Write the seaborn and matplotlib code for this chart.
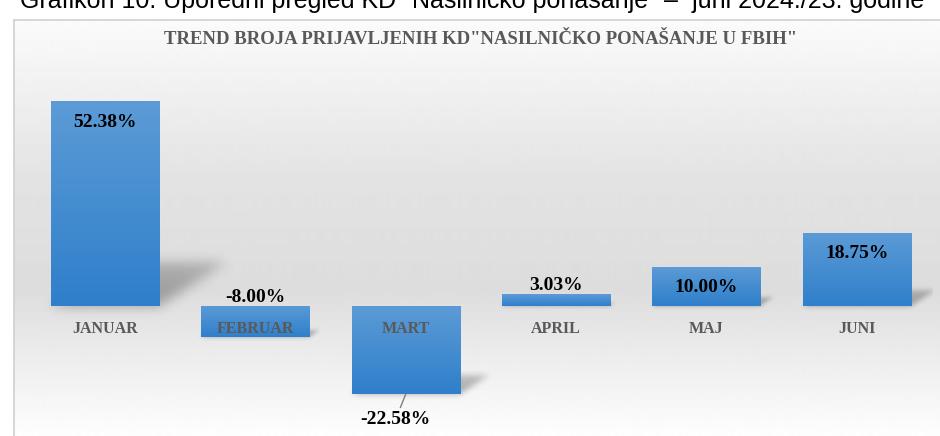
import numpy as np
import matplotlib
matplotlib.use("Agg")
import matplotlib.pyplot as plt
import seaborn as sns
from matplotlib.colors import LinearSegmentedColormap

# --- data ---
months = ["JANUAR", "FEBRUAR", "MART", "APRIL", "MAJ", "JUNI"]
trend_pct = [52.38, -8.00, -22.58, 3.03, 10.00, 18.75]
label_place = ["inside", "above", "below", "above", "inside", "inside"]

title = 'TREND BROJA PRIJAVLJENIH KD"NASILNIČKO PONAŠANJE U FBIH"'
caption = 'Grafikon 10. Uporedni pregled KD "Nasilničko ponašanje" –  juni 2024./23. godine'

sns.set_theme(style="white")
plt.rcParams['font.family'] = ['Liberation Serif', 'DejaVu Serif']

W, H = 940, 436
fig = plt.figure(figsize=(W / 100, H / 100), dpi=100)
fig.patch.set_facecolor("white")

# background panel with soft grey gradient (white top/bottom, grey middle)
bg = fig.add_axes([14 / W, 0, 1 - 14 / W, (H - 20) / H])
py = np.arange(20, H + 1)
gray = np.interp(py, [20, 70, 180, 290, 360, 436], [0.985, 0.955, 0.89, 0.865, 0.93, 0.995])
bg.imshow(gray[:, None], cmap="gray", vmin=0, vmax=1,
          extent=[0, 1, 0, 1], aspect="auto", origin="upper")
bg.set_xlim(0, 1)
bg.set_ylim(0, 1)
bg.set_xticks([])
bg.set_yticks([])
for side in ["right", "bottom"]:
    bg.spines[side].set_visible(False)
for side in ["left", "top"]:
    bg.spines[side].set_color("#d0d0d0")
    bg.spines[side].set_linewidth(1.2)

# main bar axes
ax = fig.add_axes([29.8 / W, (H - 423.4) / H, 902 / W, (423.4 - 71.2) / H])
sns.barplot(x=months, y=trend_pct, width=0.72, color="#4a90d9", ax=ax, zorder=3)

bar_cmap = LinearSegmentedColormap.from_list("bar", ["#2f7fcb", "#5c9bd6"])
grad = np.linspace(0, 1, 256).reshape(-1, 1)
px_x = 902 / 6.0
px_y = (423.4 - 71.2) / 90.0


def blur(a, sigma=4.0):
    r = int(3 * sigma)
    k = np.exp(-0.5 * (np.arange(-r, r + 1) / sigma) ** 2)
    k /= k.sum()
    a = np.array([np.convolve(row, k, mode="same") for row in a])
    a = np.array([np.convolve(col, k, mode="same") for col in a.T]).T
    return a


for p in list(ax.patches):
    x0, w = p.get_x(), p.get_width()
    lo, hi = sorted([p.get_y(), p.get_y() + p.get_height()])
    h = hi - lo
    # soft perspective shadow falling up-right from the bar's lower edge
    w_px = w * px_x
    hs_px = 0.21 * h * px_y
    dx_px = 1.55 * hs_px
    pad = 14
    uu = np.arange(-pad, w_px + dx_px + pad)
    vv = np.arange(-pad, hs_px + pad)
    U, V = np.meshgrid(uu, vv)
    t = np.clip(V / max(hs_px, 1e-6), 0, 1)
    inside = (V >= 0) & (V <= hs_px) & (U >= t * dx_px) & (U <= w_px + t * dx_px)
    mask = blur(inside * (1 - 0.35 * t), sigma=max(2.0, min(6.0, hs_px / 6)))
    rgba = np.zeros(mask.shape + (4,))
    rgba[..., 3] = 0.32 * mask
    ax.imshow(rgba, origin="lower", aspect="auto", zorder=2,
              extent=[x0 - pad / px_x, x0 + (w_px + dx_px + pad) / px_x,
                      lo - pad / px_y, lo + (hs_px + pad) / px_y])

    im = ax.imshow(grad, extent=[x0, x0 + w, lo, hi], origin="lower",
                   aspect="auto", cmap=bar_cmap, zorder=3)
    im.set_clip_path(p)
    p.set_facecolor("none")
    p.set_edgecolor("none")

ax.set_xlim(-0.5, 5.5)
ax.set_ylim(-30, 60)
ax.axis("off")

# value labels
for i, (v, place) in enumerate(zip(trend_pct, label_place)):
    txt = f"{v:.2f}%"
    kw = dict(ha="center", va="center", fontsize=14, fontweight="bold",
              color="black", textcoords="offset pixels", zorder=6)
    if place == "inside":
        ax.annotate(txt, (i, v), xytext=(0, -21), **kw)
    elif place == "above":
        ax.annotate(txt, (i, max(v, 0)), xytext=(0, 9), **kw)
    else:
        ax.annotate(txt, (i, min(v, 0)), xytext=(-10, -25),
                    arrowprops=dict(arrowstyle="-", color="#7f7f7f", lw=1,
                                    shrinkA=0, shrinkB=0), **kw)

# category labels next to the zero line
for i, m in enumerate(months):
    ax.annotate(m, (i, 0), xytext=(0, -23), textcoords="offset pixels",
                ha="center", va="center", fontsize=11.5, fontweight="bold",
                color="#595959", zorder=6)

fig.text(481 / W, 1 - 39 / H, title, ha="center", va="center", fontsize=13.5,
         fontweight="bold", color="#595959")
fig.text(20 / W, 1 - 8 / H, caption, ha="left", va="baseline", fontsize=18,
         color="black", family=["Liberation Sans", "DejaVu Sans"])

fig.savefig("out.png", dpi=100)
